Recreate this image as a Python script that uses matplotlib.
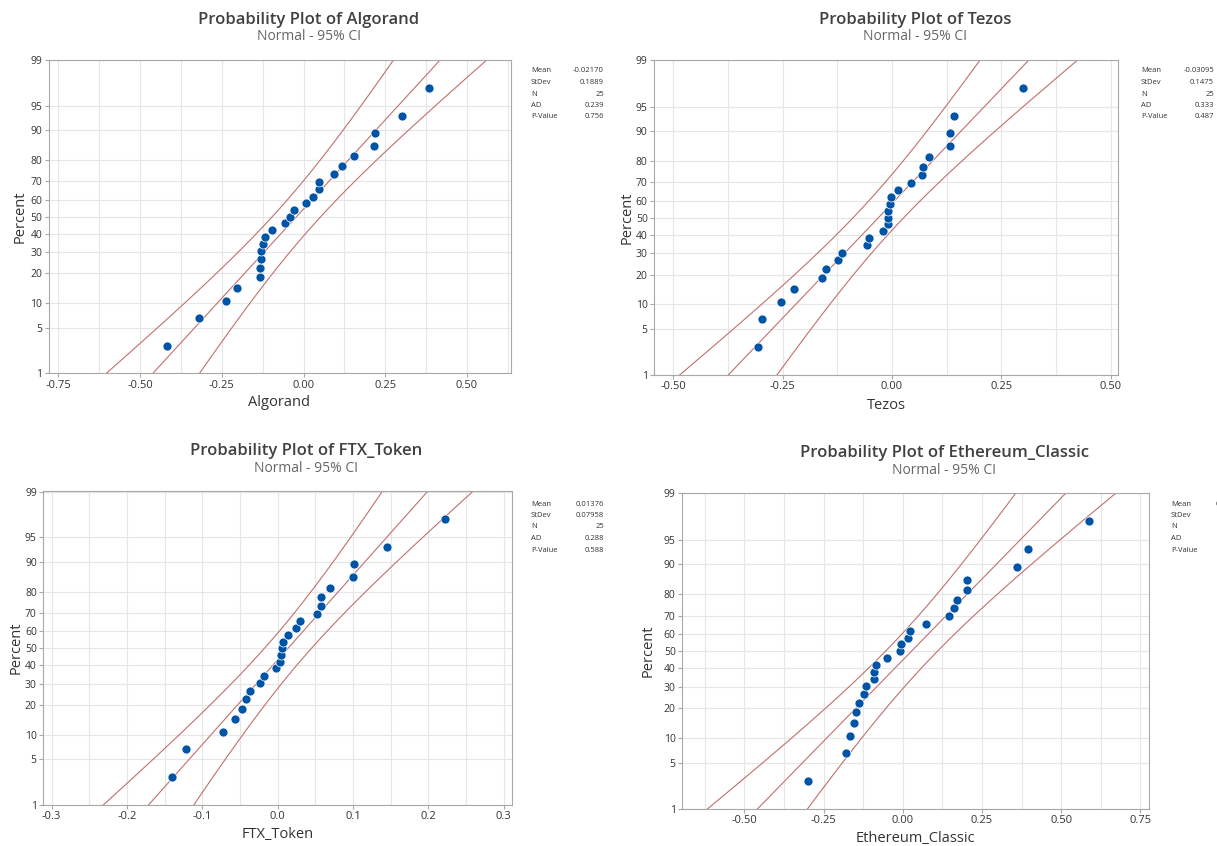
import numpy as np
import matplotlib.pyplot as plt
from statistics import NormalDist

plt.rcParams['font.family'] = ['Open Sans', 'DejaVu Sans']
plt.rcParams['axes.unicode_minus'] = False

algorand = [-0.417, -0.321, -0.237, -0.202, -0.134, -0.134, -0.131, -0.130, -0.124,
            -0.119, -0.096, -0.058, -0.041, -0.029, 0.009, 0.029, 0.048, 0.048,
            0.093, 0.118, 0.154, 0.214, 0.219, 0.302, 0.385]
tezos = [-0.306, -0.297, -0.254, -0.223, -0.160, -0.151, -0.123, -0.114, -0.056,
         -0.053, -0.021, -0.008, -0.008, -0.008, -0.005, -0.002, 0.015, 0.043,
         0.070, 0.072, 0.086, 0.132, 0.133, 0.143, 0.300]
ftx_token = [-0.140, -0.122, -0.073, -0.056, -0.047, -0.042, -0.037, -0.024, -0.018,
             -0.002, 0.003, 0.004, 0.006, 0.007, 0.014, 0.025, 0.030, 0.052,
             0.058, 0.058, 0.069, 0.100, 0.102, 0.145, 0.222]
ethereum_classic = [-0.300, -0.179, -0.167, -0.154, -0.147, -0.137, -0.121, -0.116,
                    -0.091, -0.091, -0.085, -0.050, -0.009, -0.007, 0.017, 0.024,
                    0.073, 0.146, 0.162, 0.171, 0.204, 0.204, 0.362, 0.394, 0.589]

names = ['Algorand', 'Tezos', 'FTX_Token', 'Ethereum_Classic']
series = [algorand, tezos, ftx_token, ethereum_classic]

# статистика из таблиц справа (для Ethereum_Classic таблица обрезана)
means = [-0.02170, -0.03095, 0.01376, None]
stdevs = [0.1889, 0.1475, 0.07958, None]
ads = ['0.239', '0.333', '0.288', '']
pvalues = ['0.756', '0.487', '0.588', '']

percent_ticks = [1, 5, 10, 20, 30, 40, 50, 60, 70, 80, 90, 95, 99]

W, H = 1217, 846
# положение осей в пикселях: left, right, top, bottom
boxes = [(48.5, 510.5, 60, 373.5), (654, 1118.4, 60.5, 375),
         (43, 511.5, 491.5, 805), (682, 1149, 493.3, 809)]
xlims = [(-0.78, 0.633), (-0.544, 0.518), (-0.3114, 0.3104), (-0.6965, 0.7769)]
xsteps = [0.25, 0.25, 0.1, 0.25]
xfmt = ['%.2f', '%.2f', '%.1f', '%.2f']
title_y = [20, 20, 451, 453]
xlabel_y = [403, 405, 834, 838]
ylabel_x = [20, 627, 16, 648]
stats_pos = [(531, 71), (1141, 71), (531, 504), (1171, 504)]

nd = NormalDist()
red = '#c0706e'
blue = '#0054a6'


def fx(px):
    return px / W


def fy(py):
    return 1 - py / H


fig = plt.figure(figsize=(W / 100, H / 100), dpi=100)

for i, name in enumerate(names):
    data = np.sort(np.array(series[i]))
    n = len(data)
    mu = means[i] if means[i] is not None else data.mean()
    sd = stdevs[i] if stdevs[i] is not None else data.std(ddof=1)

    l, r, t, b = boxes[i]
    ax = fig.add_axes([fx(l), fy(b), fx(r - l), (b - t) / H])

    # медианные ранги (Бенард)
    pos = (np.arange(1, n + 1) - 0.3) / (n + 0.4)
    z = np.array([nd.inv_cdf(p) for p in pos])

    # линия и 95% доверительный интервал
    pp = np.linspace(0.001, 0.999, 400)
    zz = np.array([nd.inv_cdf(p) for p in pp])
    fit = mu + sd * zz
    half = 1.96 * sd * np.sqrt(1 / n + zz ** 2 / (2 * n))
    ax.plot(fit, zz, color=red, lw=0.8, zorder=2)
    ax.plot(fit - half, zz, color=red, lw=0.8, zorder=2)
    ax.plot(fit + half, zz, color=red, lw=0.8, zorder=2)

    ax.scatter(data, z, s=42, color=blue, edgecolor='white', linewidth=0.5, zorder=3)

    zlim = (nd.inv_cdf(0.01), nd.inv_cdf(0.99))
    ax.set_ylim(zlim)
    ax.set_yticks([nd.inv_cdf(p / 100) for p in percent_ticks])
    ax.set_yticklabels([str(p) for p in percent_ticks])

    x0, x1 = xlims[i]
    step = xsteps[i]
    ax.set_xlim(x0, x1)
    major = np.arange(np.ceil(x0 / step) * step, x1 + 1e-9, step)
    minor = np.arange(np.ceil(x0 / (step / 2)) * step / 2, x1 + 1e-9, step / 2)
    ax.set_xticks(major)
    ax.set_xticklabels([xfmt[i] % v for v in major])
    ax.set_xticks(minor, minor=True)
    ax.tick_params(axis='x', which='minor', length=0)

    ax.grid(True, which='both', axis='x', color='#e6e6e6', lw=0.8)
    ax.grid(True, which='major', axis='y', color='#e6e6e6', lw=0.8)
    ax.set_axisbelow(True)
    for s in ax.spines.values():
        s.set_color('#a8a8a8')
    ax.tick_params(labelsize=7.5, colors='#333333', length=3, width=0.8,
                   color='#a8a8a8', pad=1.5)
    ax.tick_params(axis='x', labelsize=8)

    cx = (l + r) / 2
    fig.text(fx(cx + 29), fy(title_y[i]), 'Probability Plot of ' + name,
             ha='center', va='center', fontsize=12, fontweight='semibold', color='#404040')
    fig.text(fx(cx + 29), fy(title_y[i] + 17), 'Normal - 95% CI',
             ha='center', va='center', fontsize=10, color='#666666')
    fig.text(fx(cx), fy(xlabel_y[i]), name, ha='center', va='center',
             fontsize=10.5, color='#333333')
    fig.text(fx(ylabel_x[i]), fy((t + b) / 2), 'Percent', ha='center', va='center',
             rotation=90, fontsize=10.5, color='#333333')

    sx, sy = stats_pos[i]
    labels = ['Mean', 'StDev', 'N', 'AD', 'P-Value']
    values = ['%.5f' % mu if abs(mu) < 0.1 else '%.4f' % mu,
              '%.5f' % sd if sd < 0.1 else '%.4f' % sd,
              str(n), ads[i], pvalues[i]]
    for k in range(5):
        fig.text(fx(sx), fy(sy + 11.5 * k), labels[k], ha='left', va='center',
                 fontsize=5.5, color='#333333')
        fig.text(fx(sx + 73), fy(sy + 11.5 * k), values[k], ha='right', va='center',
                 fontsize=5.5, color='#333333')

fig.savefig('out.png', dpi=100)
